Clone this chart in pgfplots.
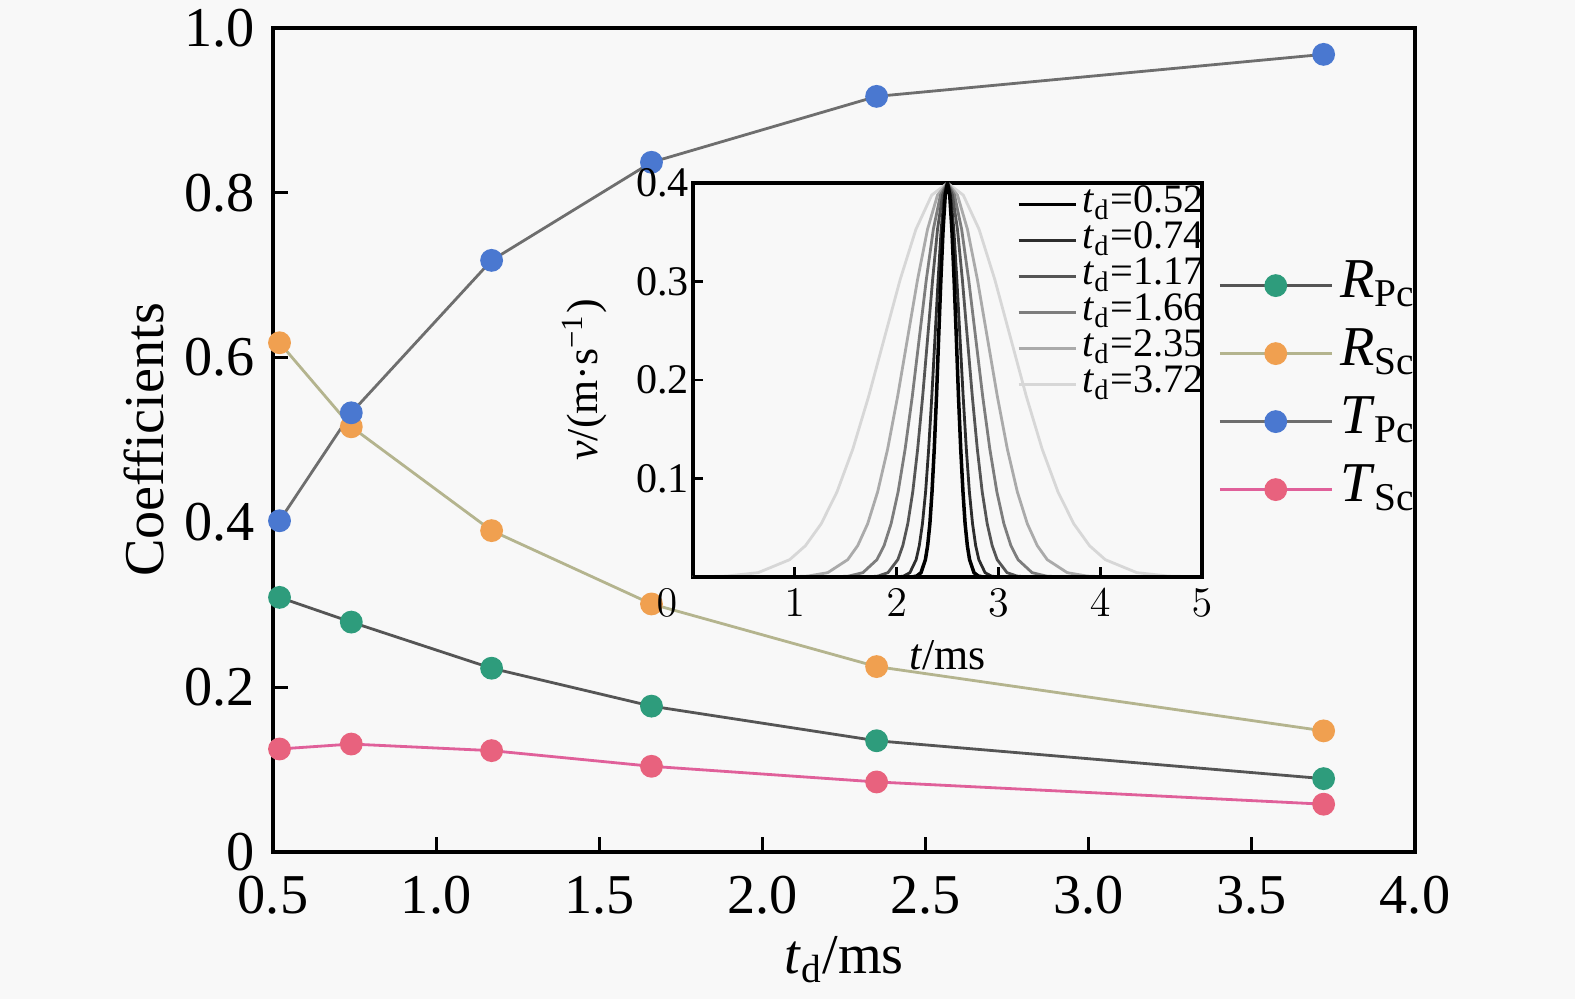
\documentclass[border=0pt]{standalone}
\usepackage{fontspec}
\setmainfont{Liberation Serif}
\usepackage{pgfplots}
\pgfplotsset{compat=1.18}
\definecolor{bg}{HTML}{F8F8F8}
\definecolor{cG}{HTML}{2E9C7C}
\definecolor{cO}{HTML}{F0A050}
\definecolor{cB}{HTML}{4A78D0}
\definecolor{cR}{HTML}{E8627E}
\definecolor{lG}{HTML}{555555}
\definecolor{lO}{HTML}{B4B48E}
\definecolor{lB}{HTML}{6E6E6E}
\definecolor{lR}{HTML}{E0609A}
\begin{document}
\begin{tikzpicture}[x=1cm,y=1cm]
\fill[bg] (0,0) rectangle (15.75,9.99);
\useasboundingbox (0,0) rectangle (15.75,9.99);
\begin{axis}[at={(2.73cm,1.47cm)},anchor=south west,scale only axis,
  width=11.42cm,height=8.24cm,
  xmin=0.5,xmax=4,ymin=0,ymax=1,
  xtick={0.5,1,1.5,2,2.5,3,3.5,4},
  xticklabels={0.5,1.0,1.5,2.0,2.5,3.0,3.5,4.0},
  ytick={0,0.2,0.4,0.6,0.8,1},
  yticklabels={0,0.2,0.4,0.6,0.8,1.0},
  xtick pos=bottom, ytick pos=left, tick align=inside,
  major tick length=1.5mm,
  axis line style={line width=1pt},
  every tick/.style={black,line width=0.8pt},
  tick label style={font=\fontsize{16}{19}\selectfont},
  xticklabel style={yshift=-1.2mm},
  yticklabel style={xshift=-0.6mm},
  label style={font=\fontsize{16}{19}\selectfont},
  xlabel={\textit{t}\textsubscript{d}/ms},
  xlabel style={yshift=0.2mm},
  ylabel={Coefficients},
  ylabel style={yshift=-0.4mm},
  clip=false,
  axis background/.style={fill=bg},
  legend cell align=left,
  legend image code/.code={\draw[mark repeat=2,mark phase=2] plot coordinates {(0cm,0cm)(0.56cm,0cm)(1.12cm,0cm)};},
  legend style={at={(rel axis cs:0.818,0.738)},anchor=north west,draw=none,fill=none,
    font=\fontsize{16}{19}\selectfont,
    nodes={inner sep=0pt,text height=4.6mm,text depth=2.2mm},
    row sep=0pt,
    /tikz/every odd column/.append style={column sep=0.7mm}},
]
\addplot[lG,line width=0.8pt,mark=*,mark size=1mm,mark options={fill=cG,draw=cG}]
 coordinates {(0.52,0.309) (0.74,0.279) (1.17,0.223) (1.66,0.177) (2.35,0.135) (3.72,0.089)};
\addlegendentry{\textit{R}\textsubscript{Pc}}
\addplot[lO,line width=0.8pt,mark=*,mark size=1mm,mark options={fill=cO,draw=cO}]
 coordinates {(0.52,0.618) (0.74,0.516) (1.17,0.390) (1.66,0.301) (2.35,0.225) (3.72,0.147)};
\addlegendentry{\textit{R}\textsubscript{Sc}}
\addplot[lB,line width=0.8pt,mark=*,mark size=1mm,mark options={fill=cB,draw=cB}]
 coordinates {(0.52,0.402) (0.74,0.533) (1.17,0.718) (1.66,0.837) (2.35,0.917) (3.72,0.968)};
\addlegendentry{\textit{T}\textsubscript{Pc}}
\addplot[lR,line width=0.8pt,mark=*,mark size=1mm,mark options={fill=cR,draw=cR}]
 coordinates {(0.52,0.125) (0.74,0.131) (1.17,0.123) (1.66,0.104) (2.35,0.085) (3.72,0.058)};
\addlegendentry{\textit{T}\textsubscript{Sc}}
\end{axis}

\begin{axis}[at={(6.93cm,4.22cm)},anchor=south west,scale only axis,
  width=5.09cm,height=3.94cm,
  xmin=0,xmax=5,ymin=0,ymax=0.4,
  xtick={1,2,3,4,5},
  extra x ticks={0},
  extra x tick style={xticklabel style={xshift=-2.6mm}},
  ytick={0.1,0.2,0.3,0.4},
  yticklabels={0.1,0.2,0.3,0.4},
  xtick pos=bottom, ytick pos=left, tick align=inside,
  major tick length=1mm,
  axis line style={line width=1pt},
  every tick/.style={black,line width=0.8pt},
  tick label style={font=\fontsize{12}{14}\selectfont},
  yticklabel style={inner xsep=1pt},
  label style={font=\fontsize{12.5}{14}\selectfont},
  xlabel={\textit{t}/ms},
  ylabel={\textit{v}/(m·s\textsuperscript{−1})},
  ylabel style={yshift=1.3mm},
  axis background/.style={fill=bg},
  legend cell align=left,
  reverse legend,
  legend image code/.code={\draw plot coordinates {(0cm,0cm)(0.57cm,0cm)};},
  legend style={at={(rel axis cs:1,1)},xshift=1.3mm,yshift=0.4mm,anchor=north east,draw=none,fill=none,
    font=\fontsize{11.5}{13}\selectfont,
    nodes={inner sep=0pt,text height=2.6mm,text depth=1.0mm},
    row sep=0pt,
    /tikz/every odd column/.append style={column sep=0.5mm}},
]
\addplot[color={rgb,255:red,215;green,215;blue,215},line width=0.8pt] coordinates {(0,0) (0.020,0.0001) (0.330,0.0009) (0.640,0.0044) (0.950,0.0176) (1.105,0.0318) (1.260,0.0541) (1.415,0.0865) (1.570,0.1299) (1.725,0.1832) (1.880,0.2426) (2.035,0.3019) (2.190,0.3530) (2.345,0.3877) (2.5,0.4) (2.655,0.3877) (2.810,0.3530) (2.965,0.3019) (3.120,0.2426) (3.275,0.1832) (3.430,0.1299) (3.585,0.0865) (3.740,0.0541) (3.895,0.0318) (4.050,0.0176) (4.360,0.0044) (4.670,0.0009) (4.980,0.0001) (5,0)};
\addlegendentry{\textit{t}\textsubscript{d}=3.72}
\addplot[color={rgb,255:red,170;green,170;blue,170},line width=0.8pt] coordinates {(0,0) (0.932,0.0001) (1.128,0.0009) (1.324,0.0044) (1.520,0.0176) (1.618,0.0318) (1.716,0.0541) (1.814,0.0865) (1.912,0.1299) (2.010,0.1832) (2.108,0.2426) (2.206,0.3019) (2.304,0.3530) (2.402,0.3877) (2.5,0.4) (2.598,0.3877) (2.696,0.3530) (2.794,0.3019) (2.892,0.2426) (2.990,0.1832) (3.088,0.1299) (3.186,0.0865) (3.284,0.0541) (3.382,0.0318) (3.480,0.0176) (3.676,0.0044) (3.872,0.0009) (4.068,0.0001) (5,0)};
\addlegendentry{\textit{t}\textsubscript{d}=2.35}
\addplot[color={rgb,255:red,125;green,125;blue,125},line width=0.8pt] coordinates {(0,0) (1.392,0.0001) (1.530,0.0009) (1.669,0.0044) (1.807,0.0176) (1.877,0.0318) (1.946,0.0541) (2.015,0.0865) (2.084,0.1299) (2.154,0.1832) (2.223,0.2426) (2.292,0.3019) (2.361,0.3530) (2.431,0.3877) (2.5,0.4) (2.569,0.3877) (2.639,0.3530) (2.708,0.3019) (2.777,0.2426) (2.846,0.1832) (2.916,0.1299) (2.985,0.0865) (3.054,0.0541) (3.123,0.0318) (3.193,0.0176) (3.331,0.0044) (3.470,0.0009) (3.608,0.0001) (5,0)};
\addlegendentry{\textit{t}\textsubscript{d}=1.66}
\addplot[color={rgb,255:red,85;green,85;blue,85},line width=0.8pt] coordinates {(0,0) (1.720,0.0001) (1.817,0.0009) (1.915,0.0044) (2.012,0.0176) (2.061,0.0318) (2.110,0.0541) (2.159,0.0865) (2.207,0.1299) (2.256,0.1832) (2.305,0.2426) (2.354,0.3019) (2.402,0.3530) (2.451,0.3877) (2.5,0.4) (2.549,0.3877) (2.598,0.3530) (2.646,0.3019) (2.695,0.2426) (2.744,0.1832) (2.793,0.1299) (2.841,0.0865) (2.890,0.0541) (2.939,0.0318) (2.988,0.0176) (3.085,0.0044) (3.183,0.0009) (3.280,0.0001) (5,0)};
\addlegendentry{\textit{t}\textsubscript{d}=1.17}
\addplot[color={rgb,255:red,45;green,45;blue,45},line width=0.8pt] coordinates {(0,0) (2.008,0.0001) (2.069,0.0009) (2.131,0.0044) (2.192,0.0176) (2.223,0.0318) (2.254,0.0541) (2.285,0.0865) (2.315,0.1299) (2.346,0.1832) (2.377,0.2426) (2.408,0.3019) (2.438,0.3530) (2.469,0.3877) (2.5,0.4) (2.531,0.3877) (2.562,0.3530) (2.592,0.3019) (2.623,0.2426) (2.654,0.1832) (2.685,0.1299) (2.715,0.0865) (2.746,0.0541) (2.777,0.0318) (2.808,0.0176) (2.869,0.0044) (2.931,0.0009) (2.992,0.0001) (5,0)};
\addlegendentry{\textit{t}\textsubscript{d}=0.74}
\addplot[color=black,line width=1pt] coordinates {(0,0) (2.153,0.0001) (2.197,0.0009) (2.240,0.0044) (2.283,0.0176) (2.305,0.0318) (2.327,0.0541) (2.348,0.0865) (2.370,0.1299) (2.392,0.1832) (2.413,0.2426) (2.435,0.3019) (2.457,0.3530) (2.478,0.3877) (2.5,0.4) (2.522,0.3877) (2.543,0.3530) (2.565,0.3019) (2.587,0.2426) (2.608,0.1832) (2.630,0.1299) (2.652,0.0865) (2.673,0.0541) (2.695,0.0318) (2.717,0.0176) (2.760,0.0044) (2.803,0.0009) (2.847,0.0001) (5,0)};
\addlegendentry{\textit{t}\textsubscript{d}=0.52}
\end{axis}
\end{tikzpicture}
\end{document}
